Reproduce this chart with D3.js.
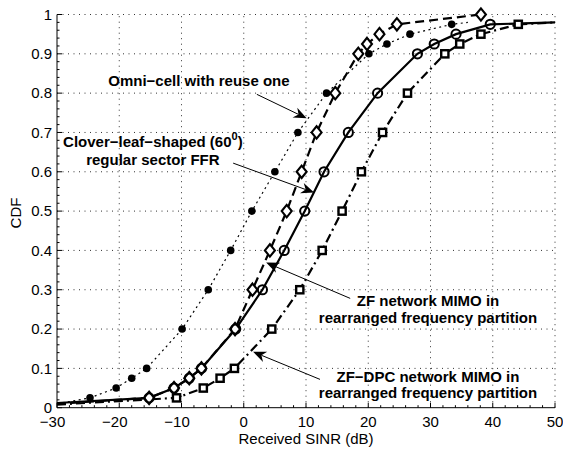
<!DOCTYPE html>
<html>
<head>
<meta charset="utf-8">
<script src="https://cdn.jsdelivr.net/npm/d3@7"></script>
<style>
  html, body { margin: 0; padding: 0; background: #fff; }
  svg { display: block; font-family: "Liberation Sans", Arial, Helvetica, sans-serif; }
</style>
</head>
<body>
<svg id="chart" width="563" height="449"></svg>
<script>
// Axis ticks
const xTicks = [-30, -20, -10, 0, 10, 20, 30, 40, 50];
const yTicks = [0, 0.1, 0.2, 0.3, 0.4, 0.5, 0.6, 0.7, 0.8, 0.9, 1];
const yTickLabels = ["0", "0.1", "0.2", "0.3", "0.4", "0.5", "0.6", "0.7", "0.8", "0.9", "1"];

// Omni-cell with reuse one (filled circles, dotted)
const omniSinr = [-24.7, -20.5, -18, -15.6, -9.9, -5.7, -2.1, 1.3, 5.0, 8.7, 13.3, 20.1, 23.0, 26.7, 33.4];
const omniCdf  = [0.025, 0.05, 0.075, 0.1, 0.2, 0.3, 0.4, 0.5, 0.6, 0.7, 0.8, 0.9, 0.925, 0.95, 0.975];
const omniTailSinr = [-30, 36];
const omniTailCdf  = [0.01, 0.98];

// Clover-leaf-shaped regular sector FFR (diamonds, dashed)
const cloverSinr = [-15.2, -11.2, -8.75, -6.8, -1.4, 1.4, 4.2, 6.9, 9.3, 11.7, 14.7, 18.4, 19.8, 21.8, 24.6, 38.1];
const cloverCdf  = [0.025, 0.05, 0.075, 0.1, 0.2, 0.3, 0.4, 0.5, 0.6, 0.7, 0.8, 0.9, 0.925, 0.95, 0.975, 1.0];
const cloverTailSinr = [-30];
const cloverTailCdf  = [0.01];

// ZF network MIMO (open circles, solid)
const zfSinr = [-15.2, -11.2, -8.75, -6.8, -1.3, 3.0, 6.5, 9.8, 12.9, 16.8, 21.5, 27.9, 30.6, 34.1, 39.6];
const zfCdf  = [0.025, 0.05, 0.075, 0.1, 0.2, 0.3, 0.4, 0.5, 0.6, 0.7, 0.8, 0.9, 0.925, 0.95, 0.975];
const zfTailSinr = [-30, 50];
const zfTailCdf  = [0.012, 0.98];

// ZF-DPC network MIMO (squares, dash-dot)
const dpcSinr = [-10.8, -6.5, -3.8, -1.5, 4.5, 9.0, 12.6, 15.8, 18.9, 22.3, 26.3, 32.3, 34.7, 38.1, 44.1];
const dpcCdf  = [0.025, 0.05, 0.075, 0.1, 0.2, 0.3, 0.4, 0.5, 0.6, 0.7, 0.8, 0.9, 0.925, 0.95, 0.975];
const dpcTailSinr = [-30, 50];
const dpcTailCdf  = [0.008, 0.98];

const svg = d3.select("#chart");
const x = d3.scaleLinear().domain([-30, 50]).range([57, 555]);
const y = d3.scaleLinear().domain([0, 1]).range([407.7, 14.5]);

const zip = (a, b) => a.map((v, i) => [v, b[i]]);
const withTails = (sx, sy, tx, ty) =>
  zip(sx, sy).concat(zip(tx, ty)).sort((p, q) => p[0] - q[0]);

// Dotted grid (includes top and right borders)
const grid = svg.append("g").attr("stroke", "#333").attr("stroke-width", 1)
  .attr("stroke-dasharray", "1,4.5").attr("fill", "none");
xTicks.slice(1).forEach(t => {
  grid.append("line").attr("x1", x(t)).attr("x2", x(t)).attr("y1", y(0)).attr("y2", y(1));
});
yTicks.slice(1).forEach(t => {
  grid.append("line").attr("x1", x(-30)).attr("x2", x(50)).attr("y1", y(t)).attr("y2", y(t));
});

const line = d3.line().x(d => x(d[0])).y(d => y(d[1]));
const plot = svg.append("g").attr("fill", "none").attr("stroke", "#000");

plot.append("path")
  .attr("d", line(withTails(omniSinr, omniCdf, omniTailSinr, omniTailCdf)))
  .attr("stroke-width", 1.2).attr("stroke-dasharray", "2,3.5");
plot.append("path")
  .attr("d", line(withTails(cloverSinr, cloverCdf, cloverTailSinr, cloverTailCdf)))
  .attr("stroke-width", 2.2).attr("stroke-dasharray", "9,5");
plot.append("path")
  .attr("d", line(withTails(zfSinr, zfCdf, zfTailSinr, zfTailCdf)))
  .attr("stroke-width", 2.2);
plot.append("path")
  .attr("d", line(withTails(dpcSinr, dpcCdf, dpcTailSinr, dpcTailCdf)))
  .attr("stroke-width", 2.2).attr("stroke-dasharray", "9,4,2,4");

// Markers
const marks = svg.append("g").attr("stroke", "#000");
marks.selectAll(".omni").data(zip(omniSinr, omniCdf)).join("circle")
  .attr("cx", d => x(d[0])).attr("cy", d => y(d[1])).attr("r", 3.8)
  .attr("fill", "#000").attr("stroke", "none");
marks.selectAll(".clover").data(zip(cloverSinr, cloverCdf)).join("path")
  .attr("d", d => {
    const cx = x(d[0]), cy = y(d[1]);
    return `M${cx},${cy - 6.2}L${cx + 5},${cy}L${cx},${cy + 6.2}L${cx - 5},${cy}Z`;
  })
  .attr("fill", "#fff").attr("stroke-width", 2.1);
marks.selectAll(".zf").data(zip(zfSinr, zfCdf)).join("circle")
  .attr("cx", d => x(d[0])).attr("cy", d => y(d[1])).attr("r", 4.6)
  .attr("fill", "none").attr("stroke-width", 2);
marks.selectAll(".dpc").data(zip(dpcSinr, dpcCdf)).join("rect")
  .attr("x", d => x(d[0]) - 3.6).attr("y", d => y(d[1]) - 3.6)
  .attr("width", 7.2).attr("height", 7.2)
  .attr("fill", "#fff").attr("stroke-width", 2.4);

// Axes: solid left and bottom with inward ticks
const axes = svg.append("g").attr("stroke", "#000").attr("stroke-width", 1);
axes.append("line").attr("x1", x(-30)).attr("x2", x(-30)).attr("y1", y(0)).attr("y2", y(1));
axes.append("line").attr("x1", x(-30)).attr("x2", x(50)).attr("y1", y(0)).attr("y2", y(0));
d3.range(-30, 50.01, 2).forEach(t => {
  const len = (Math.round(t) % 10 === 0) ? 5 : 2.5;
  axes.append("line").attr("x1", x(t)).attr("x2", x(t)).attr("y1", y(0)).attr("y2", y(0) - len);
});
d3.range(0, 50.5, 1).forEach(i => {
  const t = i * 0.02;
  const len = (i % 5 === 0) ? 5 : 2.5;
  axes.append("line").attr("x1", x(-30)).attr("x2", x(-30) + len).attr("y1", y(t)).attr("y2", y(t));
});

// Tick labels: digits centred on the tick, minus sign hanging to the left
const labels = svg.append("g").attr("fill", "#000").attr("font-size", 15);
labels.selectAll(".xt").data(xTicks).join("text")
  .attr("x", d => x(d) - (d < 0 ? 4.4 : 0)).attr("y", 427).attr("text-anchor", "middle")
  .text(d => d < 0 ? "\u2212" + Math.abs(d) : String(d));
labels.selectAll(".yt").data(yTicks).join("text")
  .attr("x", 52).attr("y", d => y(d) + 5.3).attr("text-anchor", "end")
  .text((d, i) => yTickLabels[i]);
labels.append("text").attr("x", 306).attr("y", 443.5).attr("text-anchor", "middle")
  .text("Received SINR (dB)");
labels.append("text").attr("transform", "translate(21,213) rotate(-90)")
  .attr("text-anchor", "middle").text("CDF");

// Annotations
const notes = svg.append("g").attr("font-size", 15).attr("font-weight", "bold").attr("fill", "#000");
notes.append("text").attr("x", x(-7.2)).attr("y", y(0.818)).attr("text-anchor", "middle")
  .text("Omni\u2212cell with reuse one");
const clover1 = notes.append("text").attr("x", x(-14.6)).attr("y", y(0.663)).attr("text-anchor", "middle");
clover1.append("tspan").text("Clover\u2212leaf\u2212shaped (60");
clover1.append("tspan").attr("font-size", 11).attr("dy", -7).text("0");
clover1.append("tspan").attr("dy", 7).text(")");
notes.append("text").attr("x", x(-14.6)).attr("y", y(0.617)).attr("text-anchor", "middle")
  .text("regular sector FFR");
notes.append("text").attr("x", x(29.6)).attr("y", y(0.258)).attr("text-anchor", "middle")
  .text("ZF network MIMO in");
notes.append("text").attr("x", x(29.6)).attr("y", y(0.216)).attr("text-anchor", "middle")
  .text("rearranged frequency partition");
notes.append("text").attr("x", x(29.6)).attr("y", y(0.066)).attr("text-anchor", "middle")
  .text("ZF\u2212DPC network MIMO in");
notes.append("text").attr("x", x(29.6)).attr("y", y(0.024)).attr("text-anchor", "middle")
  .text("rearranged frequency partition");

// Arrows: [from sinr, from cdf, to sinr, to cdf]
const arrows = [
  [2.1, 0.797, 10.1, 0.736],
  [-1.7, 0.622, 11.3, 0.547],
  [17.1, 0.278, 3.6, 0.369],
  [12.25, 0.072, 1.5, 0.142]
];
const arr = svg.append("g");
arrows.forEach(a => {
  const x1 = x(a[0]), y1 = y(a[1]), x2 = x(a[2]), y2 = y(a[3]);
  const ang = Math.atan2(y2 - y1, x2 - x1);
  const L = 13, W = 5.5, back = 9;
  const ux = Math.cos(ang), uy = Math.sin(ang);
  const bx = x2 - ux * L, by = y2 - uy * L;
  const nx = x2 - ux * back, ny = y2 - uy * back;
  arr.append("line").attr("x1", x1).attr("y1", y1).attr("x2", nx).attr("y2", ny)
    .attr("stroke", "#000").attr("stroke-width", 1);
  arr.append("path")
    .attr("d", `M${x2},${y2}L${bx - uy * W},${by + ux * W}L${nx},${ny}L${bx + uy * W},${by - ux * W}Z`)
    .attr("fill", "#000");
});
</script>
</body>
</html>
